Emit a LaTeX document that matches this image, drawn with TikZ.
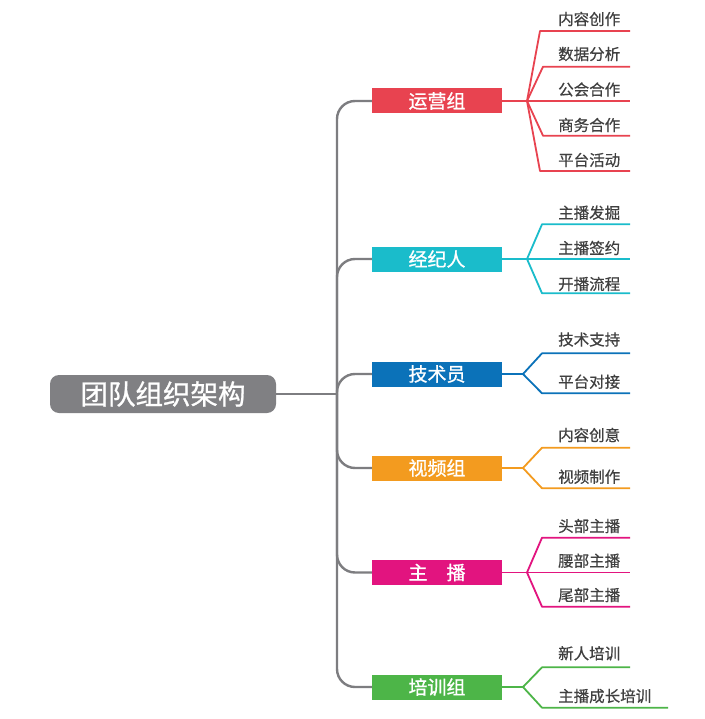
\documentclass[tikz,border=0pt]{standalone}
\usepackage{fontspec}
\newfontfamily\cjk[FakeBold=0.5]{Noto Sans CJK SC}
\newfontfamily\cjkb[FakeBold=0.9]{Noto Sans CJK SC}
\definecolor{rootgray}{RGB}{128,128,131}
\definecolor{trunkgray}{RGB}{125,125,128}
\definecolor{leafgray}{RGB}{64,64,64}
\definecolor{cred}{RGB}{232,67,80}
\definecolor{ccyan}{RGB}{26,188,203}
\definecolor{cblue}{RGB}{11,114,185}
\definecolor{corange}{RGB}{243,155,31}
\definecolor{cmag}{RGB}{226,20,127}
\definecolor{cgreen}{RGB}{77,181,72}
\begin{document}
\begin{tikzpicture}[x=1pt,y=-1pt,
  rootbox/.style={fill=rootgray, rounded corners=9pt, minimum width=226pt, minimum height=38pt, inner sep=0pt, text=white, font=\cjkb\fontsize{27.5}{30}\selectfont},
  grp/.style={fill=#1, minimum width=130pt, minimum height=25pt, inner sep=0pt, text=white, font=\cjkb\fontsize{19}{22}\selectfont},
  leaf/.style={anchor=west, inner sep=0pt, text=leafgray, font=\cjk\fontsize{15.5}{18}\selectfont},
  trunk/.style={draw=trunkgray, line width=2.4pt},
  lk/.style={draw=#1, line width=1.8pt, line join=round}]
\useasboundingbox (0,0) rectangle (704,719);
\fill[white] (0,0) rectangle (704,719);

% root
\node[rootbox] (root) at (163,394) {团队组织架构};
\coordinate (J) at (337,394);

% groups
\node[grp=cred] (g1) at (437,101) {运营组};
\node[grp=ccyan] (g2) at (437,259) {经纪人};
\node[grp=cblue] (g3) at (437,374) {技术员};
\node[grp=corange] (g4) at (437,468) {视频组};
\node[grp=cmag] (g5) at (437,572.5) {主\hspace{1em}播};
\node[grp=cgreen] (g6) at (437,687) {培训组};

% trunk
\draw[trunk] (root.east) -- (J);
\foreach \g in {g1,g2,g3,g4,g5,g6}
  \draw[trunk, rounded corners=18pt] (J) |- (\g.west);

% 运营组 leaves
\coordinate (f1) at (527,101);
\draw[lk=cred] (g1.east) -- (f1);
\draw[lk=cred] (f1) -- (540,31) -- (630,31);
\draw[lk=cred] (f1) -- (543,66.7) -- (630,66.7);
\draw[lk=cred] (f1) -- (630,101);
\draw[lk=cred] (f1) -- (543,135.7) -- (630,135.7);
\draw[lk=cred] (f1) -- (540,171) -- (630,171);
\node[leaf] (l11) at (558,19) {内容创作};
\node[leaf] (l12) at (558,54) {数据分析};
\node[leaf] (l13) at (558,89.5) {公会合作};
\node[leaf] (l14) at (558,125) {商务合作};
\node[leaf] (l15) at (558,160) {平台活动};

% 经纪人 leaves
\coordinate (f2) at (527,259);
\draw[lk=ccyan] (g2.east) -- (f2);
\draw[lk=ccyan] (f2) -- (542,224.3) -- (630,224.3);
\draw[lk=ccyan] (f2) -- (630,259);
\draw[lk=ccyan] (f2) -- (542,293.3) -- (630,293.3);
\node[leaf] (l21) at (558,212.7) {主播发掘};
\node[leaf] (l22) at (558,248) {主播签约};
\node[leaf] (l23) at (558,284) {开播流程};

% 技术员 leaves
\coordinate (f3) at (523,374);
\draw[lk=cblue] (g3.east) -- (f3);
\draw[lk=cblue] (f3) -- (542,353.3) -- (630,353.3);
\draw[lk=cblue] (f3) -- (542,393.3) -- (630,393.3);
\node[leaf] (l31) at (558,339.5) {技术支持};
\node[leaf] (l32) at (558,381.7) {平台对接};

% 视频组 leaves
\coordinate (f4) at (523,468);
\draw[lk=corange] (g4.east) -- (f4);
\draw[lk=corange] (f4) -- (542,447.7) -- (630,447.7);
\draw[lk=corange] (f4) -- (542,488.3) -- (630,488.3);
\node[leaf] (l41) at (558,435) {内容创意};
\node[leaf] (l42) at (558,476.7) {视频制作};

% 主播 leaves
\coordinate (f5) at (527,572.5);
\draw[lk=cmag] (g5.east) -- (f5);
\draw[lk=cmag] (f5) -- (542,537.7) -- (630,537.7);
\draw[lk=cmag] (f5) -- (630,572.5);
\draw[lk=cmag] (f5) -- (542,606.7) -- (630,606.7);
\node[leaf] (l51) at (558,526) {头部主播};
\node[leaf] (l52) at (558,560.7) {腰部主播};
\node[leaf] (l53) at (558,595) {尾部主播};

% 培训组 leaves
\coordinate (f6) at (523,687);
\draw[lk=cgreen] (g6.east) -- (f6);
\draw[lk=cgreen] (f6) -- (542,667.3) -- (630,667.3);
\draw[lk=cgreen] (f6) -- (542,707.7) -- (668,707.7);
\node[leaf] (l61) at (558,653.3) {新人培训};
\node[leaf] (l62) at (558,696) {主播成长培训};
\end{tikzpicture}
\end{document}
